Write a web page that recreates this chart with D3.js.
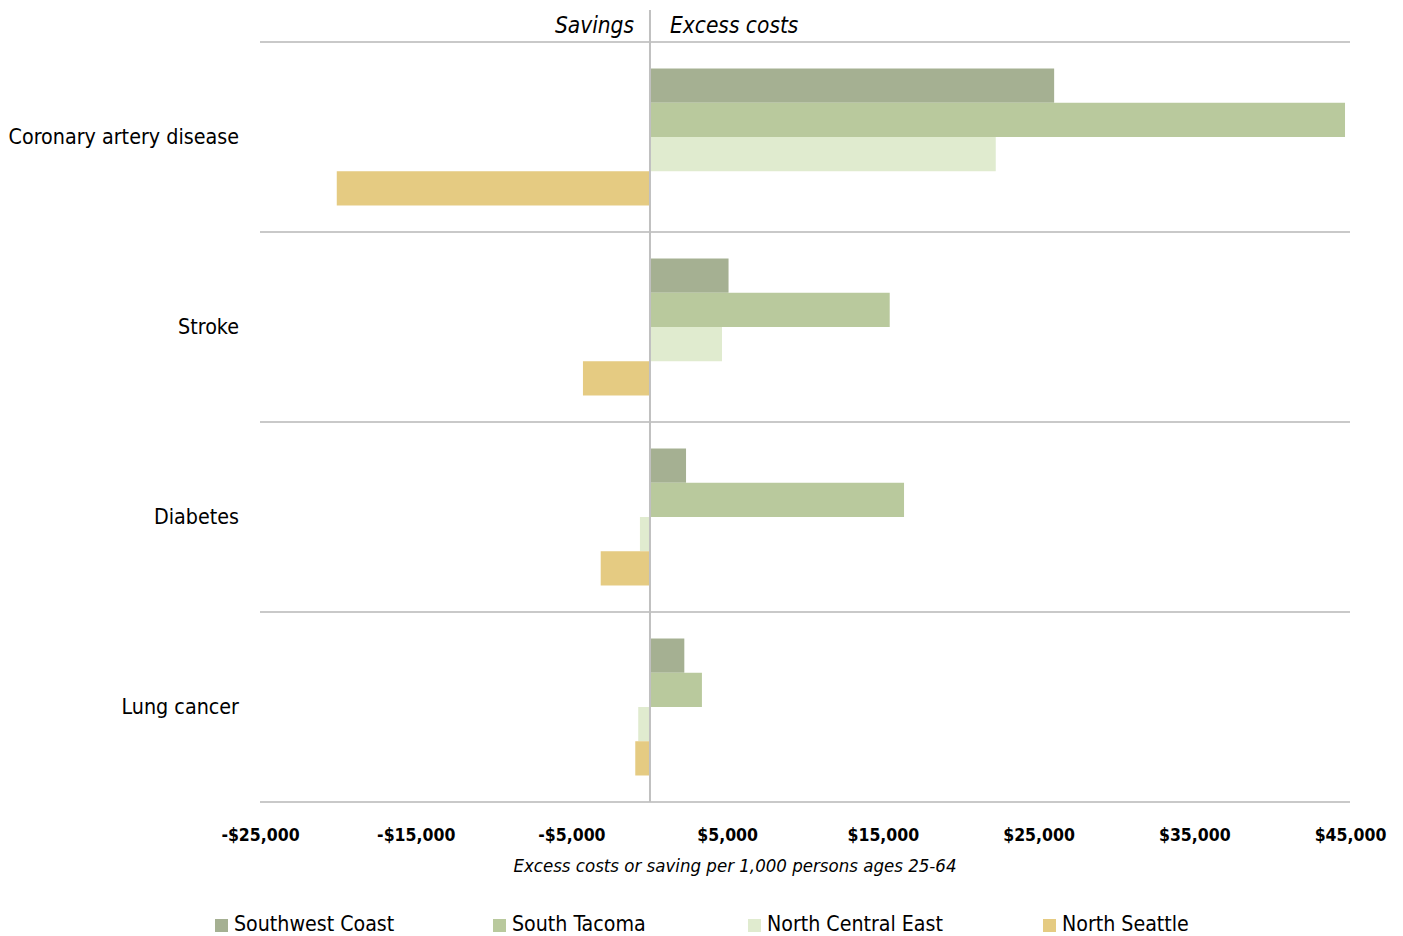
<!DOCTYPE html>
<html>
<head>
<meta charset="utf-8">
<script src="https://cdn.jsdelivr.net/npm/d3@7/dist/d3.min.js"></script>
<style>
  html, body { margin: 0; padding: 0; background: #fff; }
  svg { display: block; }
  text { font-family: "Liberation Sans Narrow", "DejaVu Sans Condensed", "Liberation Sans", sans-serif; fill: #000; }
</style>
</head>
<body>
<svg id="chart" width="1403" height="936"></svg>
<script>
const categories = ["Coronary artery disease", "Stroke", "Diabetes", "Lung cancer"];
const seriesNames = ["Southwest Coast", "South Tacoma", "North Central East", "North Seattle"];
const southwestCoast   = [26000, 5090, 2360, 2250];
const southTacoma      = [44680, 15440, 16360, 3380];
const northCentralEast = [22250, 4670, -600, -710];
const northSeattle     = [-20070, -4260, -3120, -900];
const tickValues = [-25000, -15000, -5000, 5000, 15000, 25000, 35000, 45000];
const colors = ["#a5b092", "#b9c99d", "#e0ebcf", "#e5cb82"];

const seriesValues = [southwestCoast, southTacoma, northCentralEast, northSeattle];

const svg = d3.select("#chart");
const x = d3.scaleLinear().domain([-25000, 45000]).range([260, 1350]);
const y = d3.scaleBand().domain(categories).range([42, 802]).paddingInner(0).paddingOuter(0);
const yInner = d3.scaleBand().domain(seriesNames).range([0, y.bandwidth()]).paddingInner(0).paddingOuter(0.774);

// bars
categories.forEach((cat, ci) => {
  const g = svg.append("g").attr("transform", `translate(0,${y(cat)})`);
  seriesNames.forEach((s, si) => {
    const v = seriesValues[si][ci];
    g.append("rect")
      .attr("x", Math.min(x(0), x(v)))
      .attr("width", Math.abs(x(v) - x(0)))
      .attr("y", yInner(s))
      .attr("height", yInner.bandwidth())
      .attr("fill", colors[si]);
  });
});

// horizontal grid lines (category separators)
const sepYs = categories.map(c => y(c)).concat([y.range()[1]]);
svg.append("g").selectAll("line").data(sepYs).join("line")
  .attr("x1", 260).attr("x2", 1350)
  .attr("y1", d => d).attr("y2", d => d)
  .attr("stroke", "#c9c9c9").attr("stroke-width", 2);

// zero line
svg.append("line")
  .attr("x1", x(0) + 0.7).attr("x2", x(0) + 0.7)
  .attr("y1", 10).attr("y2", 802)
  .attr("stroke", "#c0c0c0").attr("stroke-width", 2);

// x axis tick labels
const fmt = v => (v < 0 ? "-$" : "$") + d3.format(",")(Math.abs(v));
const xAxis = d3.axisBottom(x).tickValues(tickValues).tickFormat(fmt).tickSize(0).tickPadding(0);
const ax = svg.append("g").attr("transform", "translate(0,829)").call(xAxis);
ax.select(".domain").remove();
ax.selectAll("text")
  .attr("font-size", 17.5).attr("font-weight", "bold")
  .style("font-family", '"Liberation Sans Narrow", "DejaVu Sans Condensed", sans-serif')
  .attr("fill", "#000");

// axis title
svg.append("text")
  .attr("x", 735).attr("y", 872)
  .attr("text-anchor", "middle")
  .attr("font-size", 18.5).attr("font-style", "italic")
  .text("Excess costs or saving per 1,000 persons ages 25-64");

// headers
svg.append("text").attr("x", 634).attr("y", 33).attr("text-anchor", "end")
  .attr("font-size", 22.5).attr("font-style", "italic").text("Savings");
svg.append("text").attr("x", 670).attr("y", 33).attr("text-anchor", "start")
  .attr("font-size", 22.5).attr("font-style", "italic").text("Excess costs");

// category labels
svg.append("g").selectAll("text").data(categories).join("text")
  .attr("x", 239)
  .attr("y", d => y(d) + y.bandwidth() / 2)
  .attr("dy", "0.35em")
  .attr("text-anchor", "end")
  .attr("font-size", 21.3)
  .text(d => d);

// legend
const legendX = [215, 493, 748, 1043];
const lg = svg.append("g").selectAll("g").data(seriesNames).join("g")
  .attr("transform", (d, i) => `translate(${legendX[i]},919)`);
lg.append("rect").attr("width", 13).attr("height", 13).attr("fill", (d, i) => colors[i]);
lg.append("text").attr("x", 19).attr("y", 12).attr("font-size", 21.2).text(d => d);
</script>
</body>
</html>
